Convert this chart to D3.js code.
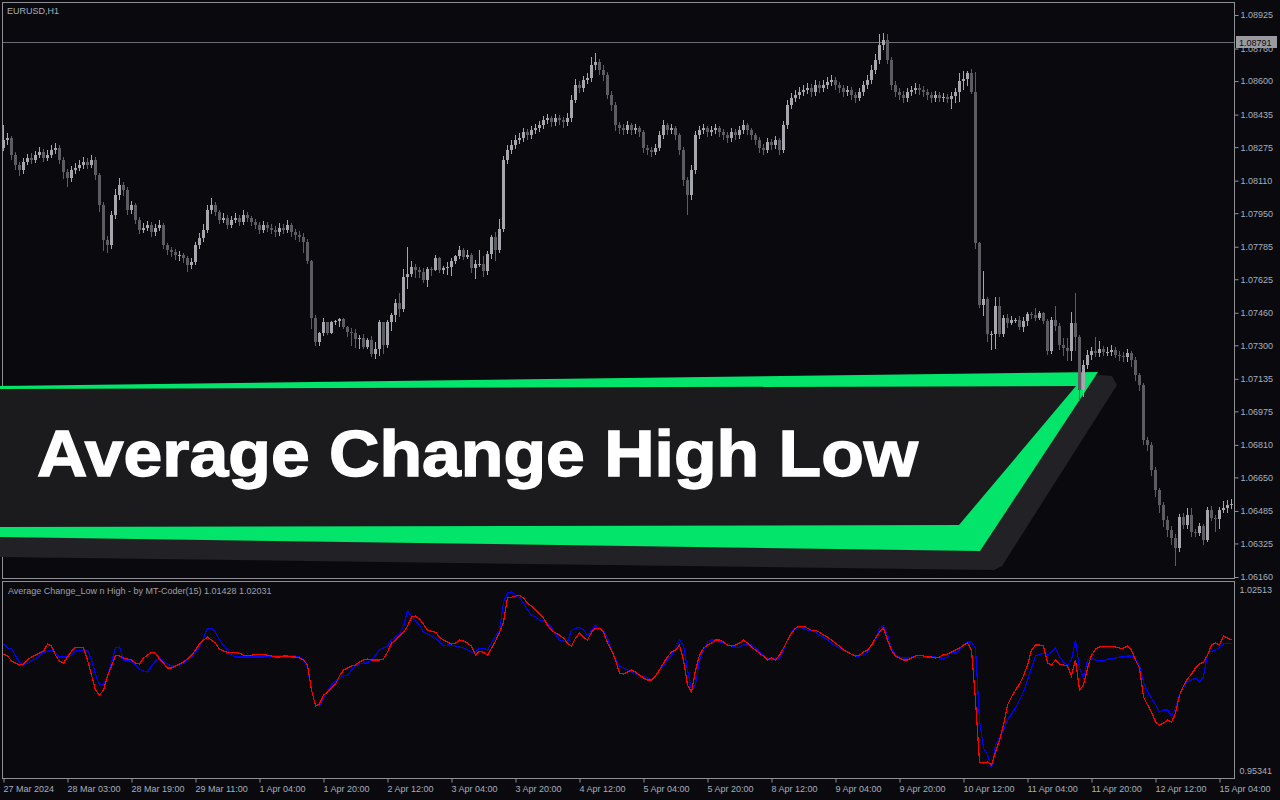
<!DOCTYPE html>
<html>
<head>
<meta charset="utf-8">
<script src="https://cdn.jsdelivr.net/npm/d3@7"></script>
<style>
  body { margin: 0; background: #0a0a0e; overflow: hidden; }
  svg { display: block; }
  text { font-family: "Liberation Sans", Arial, sans-serif; }
</style>
</head>
<body>
<svg id="chart" width="1280" height="800"></svg>
<script>
// time axis labels (one every 16 H1 bars)
const timeLabels = ['27 Mar 2024','28 Mar 03:00','28 Mar 19:00','29 Mar 11:00','1 Apr 04:00','1 Apr 20:00',
  '2 Apr 12:00','3 Apr 04:00','3 Apr 20:00','4 Apr 12:00','5 Apr 04:00','5 Apr 20:00','8 Apr 12:00',
  '9 Apr 04:00','9 Apr 20:00','10 Apr 12:00','11 Apr 04:00','11 Apr 20:00','12 Apr 12:00','15 Apr 04:00']

const priceTicks = [1.06160,1.06325,1.06485,1.06650,1.06810,1.06975,1.07135,1.07300,1.07460,
  1.07625,1.07785,1.07950,1.08110,1.08275,1.08435,1.08600,1.08760,1.08925]
const lastPrice = 1.08791
const indTicks = [0.95341, 1.02513]

// EURUSD H1 bars
const opens = [1.08271,1.08310,1.08320,1.08236,1.08187,1.08163,1.08202,1.08222,1.08212,1.08236,
  1.08251,1.08222,1.08236,1.08261,1.08271,1.08212,1.08153,1.08123,1.08163,1.08172,
  1.08187,1.08202,1.08187,1.08212,1.08138,1.07990,1.07818,1.07794,1.07941,1.08040,
  1.08089,1.08064,1.07966,1.07990,1.07917,1.07867,1.07877,1.07892,1.07858,1.07877,
  1.07892,1.07794,1.07769,1.07759,1.07744,1.07744,1.07730,1.07695,1.07710,1.07794,
  1.07828,1.07867,1.07966,1.07990,1.07956,1.07917,1.07926,1.07892,1.07917,1.07926,
  1.07907,1.07941,1.07926,1.07907,1.07892,1.07867,1.07892,1.07877,1.07867,1.07858,
  1.07877,1.07867,1.07892,1.07858,1.07843,1.07833,1.07808,1.07715,1.07434,1.07316,
  1.07361,1.07415,1.07361,1.07415,1.07420,1.07429,1.07390,1.07365,1.07361,1.07331,
  1.07336,1.07292,1.07326,1.07257,1.07282,1.07415,1.07302,1.07415,1.07449,1.07508,
  1.07479,1.07636,1.07651,1.07685,1.07671,1.07661,1.07622,1.07675,1.07671,1.07730,
  1.07671,1.07680,1.07685,1.07715,1.07739,1.07769,1.07734,1.07744,1.07680,1.07700,
  1.07700,1.07666,1.07749,1.07833,1.07769,1.07872,1.08212,1.08261,1.08286,1.08310,
  1.08320,1.08350,1.08335,1.08359,1.08369,1.08384,1.08409,1.08418,1.08399,1.08418,
  1.08409,1.08399,1.08418,1.08507,1.08581,1.08566,1.08605,1.08615,1.08679,1.08694,
  1.08655,1.08630,1.08532,1.08482,1.08384,1.08369,1.08359,1.08384,1.08359,1.08369,
  1.08350,1.08271,1.08261,1.08251,1.08271,1.08335,1.08384,1.08359,1.08369,1.08335,
  1.08261,1.08113,1.08040,1.08163,1.08335,1.08359,1.08369,1.08350,1.08359,1.08369,
  1.08350,1.08335,1.08320,1.08350,1.08335,1.08359,1.08384,1.08359,1.08335,1.08310,
  1.08271,1.08261,1.08300,1.08286,1.08310,1.08261,1.08384,1.08482,1.08517,1.08532,
  1.08546,1.08556,1.08566,1.08546,1.08581,1.08566,1.08581,1.08596,1.08605,1.08581,
  1.08566,1.08546,1.08556,1.08532,1.08517,1.08546,1.08581,1.08605,1.08655,1.08704,
  1.08778,1.08802,1.08704,1.08581,1.08546,1.08532,1.08517,1.08546,1.08556,1.08566,
  1.08556,1.08546,1.08532,1.08517,1.08532,1.08517,1.08522,1.08512,1.08527,1.08546,
  1.08600,1.08610,1.08640,1.08546,1.07803,1.07498,1.07528,1.07356,1.07356,1.07494,
  1.07356,1.07434,1.07410,1.07425,1.07425,1.07390,1.07420,1.07454,1.07449,1.07434,
  1.07459,1.07420,1.07272,1.07425,1.07395,1.07302,1.07287,1.07272,1.07410,1.07341,
  1.07080,1.07203,1.07253,1.07272,1.07262,1.07282,1.07267,1.07267,1.07277,1.07253,
  1.07248,1.07243,1.07262,1.07228,1.07154,1.07105,1.06834,1.06810,1.06687,1.06588,
  1.06514,1.06441,1.06391,1.06352,1.06303,1.06455,1.06416,1.06465,1.06381,1.06376,
  1.06411,1.06342,1.06490,1.06450,1.06445,1.06490,1.06500,1.06514]

const closes = [1.08310,1.08320,1.08236,1.08187,1.08163,1.08202,1.08222,1.08212,1.08236,1.08251,
  1.08222,1.08236,1.08261,1.08271,1.08212,1.08153,1.08123,1.08163,1.08172,1.08187,
  1.08202,1.08187,1.08212,1.08138,1.07990,1.07818,1.07794,1.07941,1.08040,1.08089,
  1.08064,1.07966,1.07990,1.07917,1.07867,1.07877,1.07892,1.07858,1.07877,1.07892,
  1.07794,1.07769,1.07759,1.07744,1.07744,1.07730,1.07695,1.07710,1.07794,1.07828,
  1.07867,1.07966,1.07990,1.07956,1.07917,1.07926,1.07892,1.07917,1.07926,1.07907,
  1.07941,1.07926,1.07907,1.07892,1.07867,1.07892,1.07877,1.07867,1.07858,1.07877,
  1.07867,1.07892,1.07858,1.07843,1.07833,1.07808,1.07715,1.07434,1.07316,1.07361,
  1.07415,1.07361,1.07415,1.07420,1.07429,1.07390,1.07365,1.07361,1.07331,1.07336,
  1.07292,1.07326,1.07257,1.07282,1.07415,1.07302,1.07415,1.07449,1.07508,1.07479,
  1.07636,1.07651,1.07685,1.07671,1.07661,1.07622,1.07675,1.07671,1.07730,1.07671,
  1.07680,1.07685,1.07715,1.07739,1.07769,1.07734,1.07744,1.07680,1.07700,1.07700,
  1.07666,1.07749,1.07833,1.07769,1.07872,1.08212,1.08261,1.08286,1.08310,1.08320,
  1.08350,1.08335,1.08359,1.08369,1.08384,1.08409,1.08418,1.08399,1.08418,1.08409,
  1.08399,1.08418,1.08507,1.08581,1.08566,1.08605,1.08615,1.08679,1.08694,1.08655,
  1.08630,1.08532,1.08482,1.08384,1.08369,1.08359,1.08384,1.08359,1.08369,1.08350,
  1.08271,1.08261,1.08251,1.08271,1.08335,1.08384,1.08359,1.08369,1.08335,1.08261,
  1.08113,1.08040,1.08163,1.08335,1.08359,1.08369,1.08350,1.08359,1.08369,1.08350,
  1.08335,1.08320,1.08350,1.08335,1.08359,1.08384,1.08359,1.08335,1.08310,1.08271,
  1.08261,1.08300,1.08286,1.08310,1.08261,1.08384,1.08482,1.08517,1.08532,1.08546,
  1.08556,1.08566,1.08546,1.08581,1.08566,1.08581,1.08596,1.08605,1.08581,1.08566,
  1.08546,1.08556,1.08532,1.08517,1.08546,1.08581,1.08605,1.08655,1.08704,1.08778,
  1.08802,1.08704,1.08581,1.08546,1.08532,1.08517,1.08546,1.08556,1.08566,1.08556,
  1.08546,1.08532,1.08517,1.08532,1.08517,1.08522,1.08512,1.08527,1.08546,1.08600,
  1.08610,1.08640,1.08546,1.07803,1.07498,1.07528,1.07356,1.07356,1.07494,1.07356,
  1.07434,1.07410,1.07425,1.07425,1.07390,1.07420,1.07454,1.07449,1.07434,1.07459,
  1.07420,1.07272,1.07425,1.07395,1.07302,1.07287,1.07272,1.07410,1.07341,1.07080,
  1.07203,1.07253,1.07272,1.07262,1.07282,1.07267,1.07267,1.07277,1.07253,1.07248,
  1.07243,1.07262,1.07228,1.07154,1.07105,1.06834,1.06810,1.06687,1.06588,1.06514,
  1.06441,1.06391,1.06352,1.06303,1.06455,1.06416,1.06465,1.06381,1.06376,1.06411,
  1.06342,1.06490,1.06450,1.06445,1.06490,1.06500,1.06514,1.06519]

const highs = [1.08384,1.08345,1.08330,1.08250,1.08200,1.08220,1.08240,1.08245,1.08255,1.08275,
  1.08265,1.08260,1.08285,1.08295,1.08285,1.08225,1.08165,1.08180,1.08195,1.08210,
  1.08225,1.08220,1.08235,1.08225,1.08150,1.08005,1.07840,1.07960,1.08070,1.08125,
  1.08105,1.08080,1.08010,1.08000,1.07930,1.07900,1.07910,1.07905,1.07895,1.07915,
  1.07900,1.07805,1.07785,1.07775,1.07765,1.07755,1.07740,1.07730,1.07810,1.07850,
  1.07895,1.07990,1.08025,1.08005,1.07965,1.07950,1.07940,1.07935,1.07950,1.07940,
  1.07965,1.07955,1.07935,1.07920,1.07905,1.07910,1.07905,1.07895,1.07885,1.07900,
  1.07895,1.07915,1.07900,1.07870,1.07860,1.07853,1.07823,1.07720,1.07449,1.07365,
  1.07434,1.07415,1.07420,1.07425,1.07434,1.07434,1.07395,1.07385,1.07380,1.07351,
  1.07356,1.07336,1.07346,1.07316,1.07425,1.07415,1.07425,1.07459,1.07528,1.07557,
  1.07675,1.07784,1.07715,1.07700,1.07685,1.07680,1.07685,1.07685,1.07744,1.07734,
  1.07690,1.07710,1.07730,1.07744,1.07789,1.07779,1.07769,1.07754,1.07720,1.07769,
  1.07739,1.07764,1.07843,1.07858,1.07921,1.08230,1.08285,1.08310,1.08335,1.08345,
  1.08370,1.08365,1.08380,1.08390,1.08405,1.08430,1.08440,1.08430,1.08440,1.08435,
  1.08425,1.08445,1.08530,1.08610,1.08600,1.08625,1.08640,1.08720,1.08740,1.08710,
  1.08680,1.08645,1.08550,1.08495,1.08400,1.08390,1.08405,1.08395,1.08390,1.08380,
  1.08360,1.08285,1.08275,1.08290,1.08355,1.08410,1.08395,1.08390,1.08380,1.08345,
  1.08275,1.08130,1.08185,1.08355,1.08380,1.08390,1.08380,1.08380,1.08390,1.08380,
  1.08365,1.08350,1.08370,1.08365,1.08380,1.08410,1.08395,1.08370,1.08345,1.08325,
  1.08290,1.08320,1.08315,1.08330,1.08320,1.08405,1.08505,1.08540,1.08555,1.08570,
  1.08580,1.08590,1.08585,1.08605,1.08600,1.08605,1.08620,1.08630,1.08620,1.08595,
  1.08580,1.08575,1.08570,1.08545,1.08565,1.08600,1.08630,1.08680,1.08735,1.08830,
  1.08837,1.08830,1.08720,1.08600,1.08565,1.08550,1.08565,1.08575,1.08590,1.08585,
  1.08575,1.08560,1.08545,1.08550,1.08545,1.08540,1.08535,1.08546,1.08566,1.08640,
  1.08650,1.08650,1.08660,1.08645,1.07808,1.07666,1.07538,1.07370,1.07538,1.07538,
  1.07449,1.07454,1.07444,1.07434,1.07444,1.07439,1.07464,1.07464,1.07484,1.07469,
  1.07464,1.07429,1.07439,1.07494,1.07410,1.07336,1.07336,1.07464,1.07557,1.07351,
  1.07230,1.07275,1.07290,1.07341,1.07320,1.07295,1.07290,1.07300,1.07290,1.07270,
  1.07265,1.07280,1.07270,1.07240,1.07165,1.07115,1.06850,1.06825,1.06700,1.06600,
  1.06530,1.06460,1.06410,1.06370,1.06470,1.06475,1.06500,1.06500,1.06395,1.06425,
  1.06420,1.06505,1.06510,1.06465,1.06505,1.06535,1.06540,1.06545]

const lows = [1.08261,1.08290,1.08215,1.08165,1.08140,1.08150,1.08190,1.08195,1.08200,1.08225,
  1.08205,1.08210,1.08225,1.08245,1.08195,1.08125,1.08085,1.08110,1.08150,1.08160,
  1.08170,1.08170,1.08175,1.08120,1.07960,1.07770,1.07760,1.07780,1.07925,1.08020,
  1.08040,1.07945,1.07950,1.07900,1.07850,1.07855,1.07865,1.07840,1.07845,1.07865,
  1.07780,1.07750,1.07740,1.07725,1.07720,1.07710,1.07665,1.07680,1.07700,1.07780,
  1.07815,1.07855,1.07950,1.07940,1.07900,1.07905,1.07875,1.07880,1.07905,1.07890,
  1.07895,1.07910,1.07890,1.07875,1.07850,1.07855,1.07860,1.07850,1.07840,1.07845,
  1.07850,1.07855,1.07840,1.07825,1.07815,1.07759,1.07705,1.07385,1.07302,1.07302,
  1.07351,1.07356,1.07361,1.07405,1.07395,1.07385,1.07346,1.07302,1.07292,1.07287,
  1.07287,1.07287,1.07248,1.07238,1.07253,1.07262,1.07292,1.07375,1.07420,1.07444,
  1.07469,1.07582,1.07641,1.07636,1.07636,1.07612,1.07592,1.07646,1.07671,1.07661,
  1.07656,1.07651,1.07646,1.07705,1.07730,1.07725,1.07730,1.07661,1.07631,1.07690,
  1.07641,1.07651,1.07730,1.07720,1.07759,1.07860,1.08195,1.08245,1.08270,1.08295,
  1.08305,1.08315,1.08320,1.08345,1.08355,1.08370,1.08395,1.08380,1.08385,1.08390,
  1.08375,1.08385,1.08405,1.08495,1.08545,1.08550,1.08590,1.08600,1.08660,1.08635,
  1.08605,1.08515,1.08460,1.08360,1.08345,1.08340,1.08345,1.08340,1.08345,1.08330,
  1.08250,1.08240,1.08230,1.08240,1.08260,1.08320,1.08340,1.08345,1.08315,1.08240,
  1.08090,1.07945,1.08020,1.08150,1.08320,1.08345,1.08330,1.08335,1.08345,1.08330,
  1.08315,1.08300,1.08305,1.08315,1.08320,1.08345,1.08340,1.08315,1.08290,1.08250,
  1.08240,1.08250,1.08265,1.08270,1.08240,1.08250,1.08370,1.08465,1.08500,1.08515,
  1.08530,1.08540,1.08525,1.08530,1.08545,1.08550,1.08565,1.08580,1.08560,1.08545,
  1.08525,1.08530,1.08510,1.08495,1.08505,1.08530,1.08565,1.08590,1.08640,1.08690,
  1.08760,1.08690,1.08560,1.08525,1.08510,1.08495,1.08500,1.08530,1.08540,1.08535,
  1.08525,1.08510,1.08495,1.08500,1.08500,1.08500,1.08495,1.08468,1.08497,1.08502,
  1.08561,1.08581,1.08541,1.07779,1.07488,1.07449,1.07321,1.07282,1.07287,1.07346,
  1.07346,1.07390,1.07405,1.07415,1.07380,1.07370,1.07400,1.07434,1.07425,1.07429,
  1.07410,1.07257,1.07262,1.07375,1.07282,1.07253,1.07228,1.07228,1.07277,1.07031,
  1.07050,1.07190,1.07235,1.07245,1.07245,1.07250,1.07250,1.07250,1.07240,1.07230,
  1.07225,1.07225,1.07200,1.07130,1.07080,1.06815,1.06785,1.06660,1.06560,1.06480,
  1.06410,1.06360,1.06320,1.06220,1.06290,1.06400,1.06400,1.06360,1.06360,1.06365,
  1.06320,1.06335,1.06440,1.06385,1.06400,1.06480,1.06480,1.06500]

// indicator buffers
const redLine = [0.9997,0.9990,0.9970,0.9962,0.9954,0.9958,0.9974,0.9986,0.9993,1.0001,
  1.0009,1.0037,1.0029,0.9993,0.9970,0.9962,0.9986,1.0009,1.0025,1.0025,
  1.0021,0.9974,0.9914,0.9855,0.9835,0.9855,0.9911,0.9950,0.9993,0.9990,
  0.9982,0.9978,0.9974,0.9962,0.9958,0.9982,0.9993,1.0005,1.0001,0.9978,
  0.9962,0.9942,0.9942,0.9950,0.9958,0.9966,0.9978,0.9993,1.0013,1.0037,
  1.0053,1.0065,1.0053,1.0041,1.0017,1.0009,1.0005,1.0005,1.0005,1.0001,
  0.9993,0.9993,0.9993,0.9997,0.9997,0.9997,0.9993,0.9990,0.9986,0.9986,
  0.9990,0.9990,0.9986,0.9986,0.9982,0.9974,0.9954,0.9855,0.9792,0.9800,
  0.9835,0.9847,0.9863,0.9879,0.9911,0.9934,0.9942,0.9950,0.9954,0.9966,
  0.9974,0.9978,0.9974,0.9974,0.9974,0.9978,1.0005,1.0041,1.0053,1.0069,
  1.0084,1.0108,1.0144,1.0148,1.0136,1.0116,1.0092,1.0088,1.0084,1.0065,
  1.0053,1.0045,1.0037,1.0041,1.0053,1.0049,1.0041,1.0029,0.9993,1.0009,
  1.0005,0.9993,1.0021,1.0049,1.0084,1.0124,1.0223,1.0223,1.0227,1.0231,
  1.0219,1.0199,1.0188,1.0172,1.0156,1.0140,1.0112,1.0092,1.0080,1.0073,
  1.0061,1.0041,1.0029,1.0061,1.0080,1.0065,1.0053,1.0084,1.0100,1.0100,
  1.0084,1.0041,1.0013,0.9974,0.9922,0.9918,0.9926,0.9934,0.9926,0.9914,
  0.9903,0.9895,0.9895,0.9911,0.9934,0.9962,0.9986,1.0005,1.0013,1.0033,
  0.9974,0.9875,0.9847,0.9934,0.9993,1.0021,1.0033,1.0041,1.0053,1.0053,
  1.0045,1.0033,1.0029,1.0033,1.0041,1.0053,1.0041,1.0025,1.0013,1.0001,
  0.9990,0.9974,0.9982,0.9974,0.9993,1.0021,1.0053,1.0080,1.0100,1.0108,
  1.0108,1.0100,1.0092,1.0092,1.0084,1.0073,1.0065,1.0053,1.0041,1.0029,
  1.0013,1.0005,0.9997,0.9990,0.9993,1.0005,1.0013,1.0033,1.0061,1.0084,
  1.0100,1.0053,1.0013,0.9990,0.9982,0.9974,0.9974,0.9982,0.9990,0.9993,
  0.9990,0.9986,0.9986,0.9982,0.9986,0.9997,0.9997,1.0005,1.0013,1.0021,
  1.0033,1.0041,1.0013,0.9815,0.9570,0.9566,0.9570,0.9558,0.9609,0.9657,
  0.9716,0.9796,0.9827,0.9855,0.9879,0.9911,0.9954,1.0013,1.0033,1.0033,
  1.0029,0.9962,0.9954,0.9974,0.9958,0.9954,0.9950,0.9911,0.9974,0.9855,
  0.9875,0.9942,0.9993,1.0017,1.0025,1.0029,1.0029,1.0029,1.0025,1.0021,
  1.0021,1.0029,1.0013,0.9974,0.9942,0.9827,0.9796,0.9768,0.9728,0.9716,
  0.9724,0.9736,0.9728,0.9764,0.9835,0.9871,0.9899,0.9918,0.9942,0.9958,
  0.9966,0.9993,1.0033,1.0041,1.0033,1.0069,1.0061,1.0053]

const blueLine = [1.0037,1.0021,1.0021,0.9990,0.9966,0.9954,0.9962,0.9970,0.9978,0.9990,
  1.0005,1.0009,1.0013,1.0001,0.9986,0.9986,0.9986,0.9993,1.0009,1.0013,
  1.0013,1.0013,0.9974,0.9918,0.9875,0.9879,0.9911,0.9966,1.0021,1.0025,
  0.9974,0.9974,0.9970,0.9954,0.9938,0.9930,0.9926,0.9950,0.9970,0.9982,
  0.9970,0.9958,0.9950,0.9950,0.9954,0.9962,0.9974,0.9986,1.0005,1.0029,
  1.0061,1.0100,1.0100,1.0084,1.0053,1.0033,1.0013,0.9993,0.9986,0.9986,
  0.9986,0.9986,0.9986,0.9986,0.9986,0.9986,0.9990,0.9990,0.9993,0.9993,
  0.9990,0.9990,0.9990,0.9990,0.9986,0.9974,0.9942,0.9855,0.9796,0.9792,
  0.9823,0.9855,0.9875,0.9891,0.9903,0.9911,0.9914,0.9934,0.9950,0.9958,
  0.9962,0.9962,0.9974,0.9993,1.0013,1.0021,1.0029,1.0053,1.0065,1.0077,
  1.0108,1.0168,1.0148,1.0128,1.0112,1.0084,1.0077,1.0069,1.0061,1.0045,
  1.0029,1.0033,1.0033,1.0029,1.0025,1.0021,1.0013,1.0005,1.0005,1.0021,
  1.0021,1.0013,1.0041,1.0069,1.0092,1.0203,1.0239,1.0243,1.0231,1.0219,
  1.0199,1.0172,1.0152,1.0144,1.0132,1.0128,1.0120,1.0104,1.0077,1.0053,
  1.0049,1.0045,1.0092,1.0100,1.0104,1.0092,1.0073,1.0092,1.0112,1.0100,
  1.0092,1.0061,1.0009,0.9982,0.9950,0.9942,0.9934,0.9926,0.9918,0.9914,
  0.9911,0.9903,0.9895,0.9907,0.9934,0.9954,0.9974,0.9993,1.0021,1.0053,
  1.0033,0.9934,0.9855,0.9875,0.9974,1.0013,1.0045,1.0053,1.0053,1.0045,
  1.0041,1.0033,1.0029,1.0025,1.0025,1.0033,1.0037,1.0033,1.0021,1.0005,
  0.9993,0.9982,0.9974,0.9982,0.9982,1.0013,1.0053,1.0084,1.0100,1.0104,
  1.0100,1.0092,1.0092,1.0084,1.0073,1.0065,1.0053,1.0041,1.0029,1.0021,
  1.0013,1.0005,0.9997,0.9990,0.9990,0.9993,1.0005,1.0033,1.0053,1.0100,
  1.0108,1.0073,1.0021,0.9993,0.9986,0.9982,0.9982,0.9986,0.9986,0.9982,
  0.9986,0.9986,0.9986,0.9986,0.9982,0.9978,0.9986,1.0005,1.0001,1.0013,
  1.0033,1.0045,1.0045,1.0021,0.9736,0.9625,0.9598,0.9546,0.9637,0.9669,
  0.9697,0.9736,0.9760,0.9784,0.9815,0.9847,0.9895,0.9942,0.9990,0.9997,
  1.0001,0.9993,1.0005,1.0021,0.9986,0.9966,0.9954,0.9974,1.0053,0.9942,
  0.9903,0.9974,0.9982,0.9974,0.9970,0.9970,0.9978,0.9978,0.9982,0.9986,
  0.9986,0.9990,0.9990,0.9974,0.9954,0.9887,0.9847,0.9823,0.9796,0.9768,
  0.9776,0.9776,0.9752,0.9784,0.9835,0.9867,0.9887,0.9895,0.9903,0.9887,
  0.9907,1.0001,1.0009,1.0013,1.0025,1.0037,1.0041,1.0037]

const svg = d3.select('#chart')
const frameColor = '#8f8f96'
const axisText = '#a7afbd'
const bullColor = '#a6a6ae'
const bearColor = '#5c5c63'

const x = d3.scaleLinear().domain([0, closes.length - 1]).range([3, 3 + 4 * (closes.length - 1)])
const y = d3.scaleLinear().domain([1.06160, 1.08925]).range([577, 15])
const yInd = d3.scaleLinear().domain([0.95341, 1.02513]).range([771, 590])

// panel frames
svg.append('rect').attr('x', 2.5).attr('y', 2.5).attr('width', 1232).attr('height', 576)
  .attr('fill', 'none').attr('stroke', frameColor)
svg.append('rect').attr('x', 2.5).attr('y', 581.5).attr('width', 1232).attr('height', 197)
  .attr('fill', 'none').attr('stroke', frameColor)

// last price line
const lastY = Math.round(y(lastPrice))
svg.append('line').attr('x1', 3).attr('x2', 1234)
  .attr('y1', lastY + 0.5).attr('y2', lastY + 0.5)
  .attr('stroke', '#6b6b73')

// banner
const banner = svg.append('g')
banner.append('polygon').attr('fill', '#222226')
  .attr('points', '0,530 1100,375 1112,376 1117,385 1002,566 994,570 0,557')
banner.append('polygon').attr('fill', '#03e46a')
  .attr('points', '0,386 1098,372 980,551 0,537')
banner.append('polygon').attr('fill', '#1b1b1e')
  .attr('points', '0,389 1076,386 959,525 0,527')
banner.append('text').attr('x', 37).attr('y', 476)
  .attr('fill', '#ffffff').attr('stroke', '#ffffff').attr('stroke-width', 1.4)
  .attr('font-weight', 'bold').attr('font-size', 65)
  .attr('textLength', 881).attr('lengthAdjust', 'spacingAndGlyphs')
  .text('Average Change High Low')

// candles
const candles = svg.append('g')
closes.forEach((c, i) => {
  const o = opens[i]
  const col = c >= o ? bullColor : bearColor
  const cx = Math.round(x(i))
  candles.append('line').attr('x1', cx + 0.5).attr('x2', cx + 0.5)
    .attr('y1', Math.round(y(highs[i]))).attr('y2', Math.round(y(lows[i])) + 1)
    .attr('stroke', col)
  const top = Math.round(y(Math.max(o, c))), bot = Math.round(y(Math.min(o, c)))
  candles.append('rect').attr('x', cx - 1).attr('y', top).attr('width', 3)
    .attr('height', Math.max(1, bot - top)).attr('fill', col)
})

// indicator lines
const line = d3.line().x((d, i) => Math.round(x(i)) + 0.5).y(d => yInd(d))
svg.append('path').datum(blueLine).attr('d', line).attr('fill', 'none')
  .attr('stroke', '#0000ff').attr('stroke-width', 1.2).attr('shape-rendering', 'crispEdges')
svg.append('path').datum(redLine).attr('d', line).attr('fill', 'none')
  .attr('stroke', '#ff0000').attr('stroke-width', 1.2).attr('shape-rendering', 'crispEdges')

// price axis
const yAxis = svg.append('g').attr('transform', 'translate(1234.5,0)')
  .call(d3.axisRight(y).tickValues(priceTicks).tickSize(4).tickPadding(2).tickFormat(d3.format('.5f')))
yAxis.select('.domain').remove()
yAxis.selectAll('line').attr('stroke', frameColor)
yAxis.selectAll('text').attr('fill', axisText).attr('font-size', 9).attr('font-family', '"Liberation Sans", Arial')

// last price tag
svg.append('rect').attr('x', 1236).attr('y', lastY - 6).attr('width', 41).attr('height', 12)
  .attr('fill', '#9a9aa1')
svg.append('text').attr('x', 1239).attr('y', lastY + 4)
  .attr('font-size', 9).attr('fill', '#0a0a0e').text(lastPrice.toFixed(5))

// indicator axis
const indAxis = svg.append('g').attr('transform', 'translate(1234.5,0)')
  .call(d3.axisRight(yInd).tickValues(indTicks).tickSize(0).tickPadding(5).tickFormat(d3.format('.5f')))
indAxis.select('.domain').remove()
indAxis.selectAll('text').attr('fill', axisText).attr('font-size', 9).attr('font-family', '"Liberation Sans", Arial')

// time axis
const xAxis = svg.append('g').attr('transform', 'translate(0,778.5)')
  .call(d3.axisBottom(x).tickValues(d3.range(0, closes.length, 16)).tickSize(4).tickPadding(3)
    .tickFormat((d, i) => timeLabels[i]))
xAxis.select('.domain').remove()
xAxis.selectAll('line').attr('stroke', frameColor).attr('transform', 'translate(0.5,0)')
xAxis.selectAll('text').attr('fill', axisText).attr('font-size', 9).attr('text-anchor', 'start')
  .attr('font-family', '"Liberation Sans", Arial')

// labels
svg.append('text').attr('x', 7).attr('y', 14).attr('font-size', 9).attr('fill', axisText).text('EURUSD,H1')
svg.append('text').attr('x', 8).attr('y', 594).attr('font-size', 9).attr('fill', '#a0a0a8')
  .text('Average Change_Low n High - by MT-Coder(15) 1.01428 1.02031')
</script>
</body>
</html>
